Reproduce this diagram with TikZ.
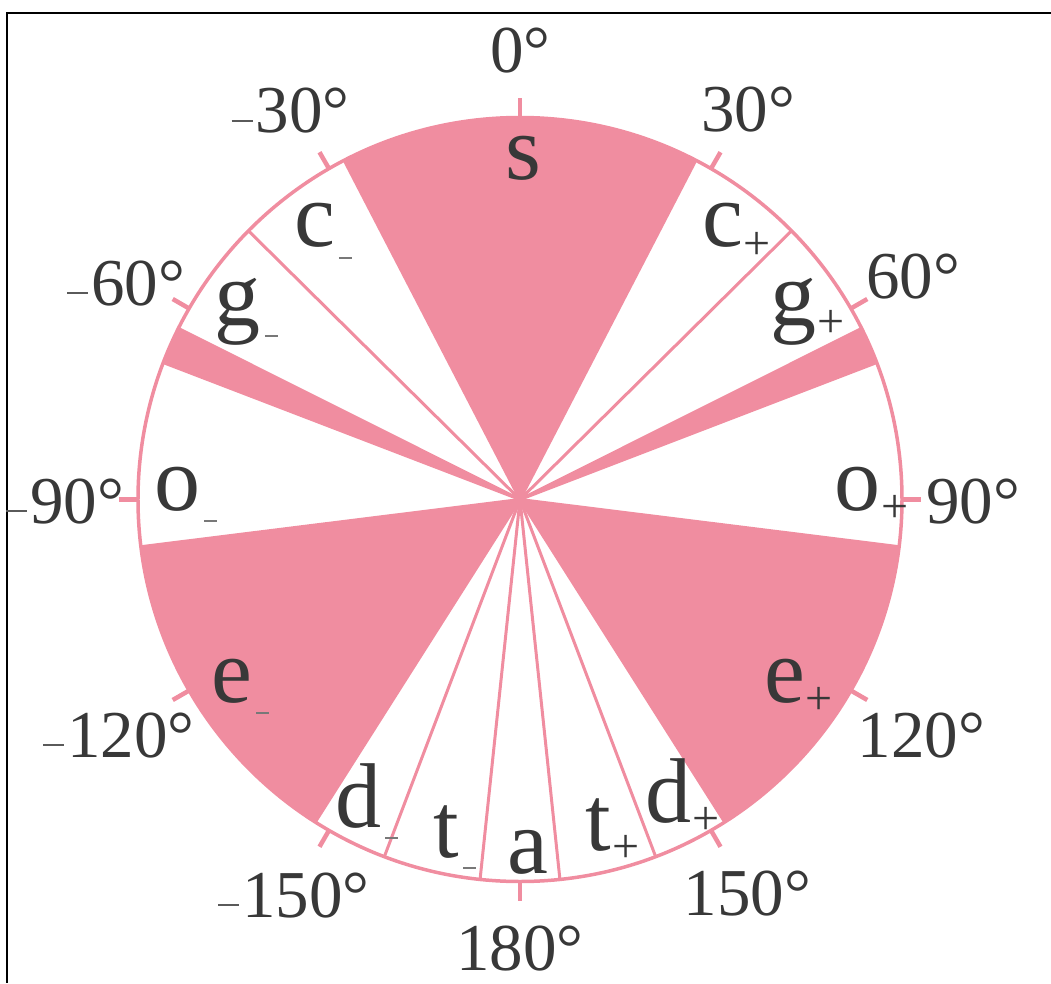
\documentclass[tikz,border=0pt]{standalone}
\usepackage{fontspec}
\setmainfont{Liberation Serif}
\definecolor{rose}{RGB}{240,141,160}
\definecolor{ink}{RGB}{56,56,56}
\definecolor{subgray}{RGB}{120,120,120}
\definecolor{dashgray}{RGB}{90,90,90}
\newcommand{\letfont}{\fontsize{92}{92}\selectfont}
\newcommand{\degfont}{\fontsize{67}{67}\selectfont}
\newcommand{\subminus}{\rlap{\kern4pt\textcolor{subgray}{\rule[-11.8pt]{13pt}{1.6pt}}}}
\newcommand{\subplus}{\rlap{\kern1pt\raisebox{-12.5pt}{\fontsize{48}{48}\selectfont +}}}
\newcommand{\degminus}{\llap{\textcolor{dashgray}{\rule[11pt]{21pt}{1.6pt}}\kern3pt}}
\begin{document}
\begin{tikzpicture}[x=1pt,y=1pt,
  lbl/.style={anchor=base,inner sep=0pt,text=ink,font=\letfont},
  deg/.style={anchor=base,inner sep=0pt,text=ink,font=\degfont},
  radial/.style={draw=rose,line width=3pt},
  tickmark/.style={draw=rose,line width=4.5pt},
  rim/.style={draw=rose,line width=3.5pt}]
\useasboundingbox (-520,-483.5) rectangle (531,499.5);
% frame
\draw[black,line width=1.5pt] (531,486.5) -- (-513,486.5) -- (-513,-483.5);
\def\R{382}
% pink sectors (compass angles theta -> polar 90-theta)
\fill[rose] (0,0) -- (117.4:\R) arc[start angle=117.4,end angle=62.6,radius=\R] -- cycle;
\fill[rose] (0,0) -- (26.6:\R) arc[start angle=26.6,end angle=21,radius=\R] -- cycle;
\fill[rose] (0,0) -- (153.4:\R) arc[start angle=153.4,end angle=159,radius=\R] -- cycle;
\fill[rose] (0,0) -- (-7.1:\R) arc[start angle=-7.1,end angle=-57.6,radius=\R] -- cycle;
\fill[rose] (0,0) -- (187.1:\R) arc[start angle=187.1,end angle=237.6,radius=\R] -- cycle;
% radial boundary lines
\foreach \t in {27.4,45.3,63.4,69,97.1,147.6,159.2,174}{
  \draw[radial] (0,0) -- ({90-\t}:\R);
  \draw[radial] (0,0) -- ({90+\t}:\R);
}
% rim
\draw[rim] (0,0) circle[radius=\R];
% ticks
\foreach \a in {0,30,60,90,120,150,180,210,240,270,300,330}{
  \draw[tickmark] (\a:\R+1) -- (\a:\R+19);
}
% sector labels
\node[lbl] (ls) at (3.5,319.5) {s};
\node[lbl] (lcm) at (-205.5,252.5) {c\subminus};
\node[lbl] (lcp) at (202.5,252.5) {c\subplus};
\node[lbl] (lgm) at (-282,174.5) {g\subminus};
\node[lbl] (lgp) at (273,174.5) {g\subplus};
\node[lbl] (lom) at (-342.5,-10.5) {o\subminus};
\node[lbl] (lop) at (337,-10.5) {o\subplus};
\node[lbl] (lem) at (-288,-202.5) {e\subminus};
\node[lbl] (lep) at (264.5,-202.5) {e\subplus};
\node[lbl] (ldm) at (-161.5,-327.5) {d\subminus};
\node[lbl] (ldp) at (148.5,-322.5) {d\subplus};
\node[lbl] (ltm) at (-73.5,-357.5) {t\subminus};
\node[lbl] (la) at (7.5,-373.5) {a};
\node[lbl] (ltp) at (78.5,-350.5) {t\subplus};
% degree labels
\node[deg] (d0) at (0.5,426.5) {0°};
\node[deg] (dm30) at (-217.5,366.5) {\degminus30°};
\node[deg] (d30) at (228,367.5) {30°};
\node[deg] (dm60) at (-382,194.5) {\degminus60°};
\node[deg] (d60) at (393,201.5) {60°};
\node[deg] (dm90) at (-443,-23.5) {\degminus90°};
\node[deg] (d90) at (453,-23.5) {90°};
\node[deg] (dm120) at (-389,-257.5) {\degminus120°};
\node[deg] (d120) at (401.5,-257.5) {120°};
\node[deg] (dm150) at (-214,-417.5) {\degminus150°};
\node[deg] (d150) at (227.5,-415.5) {150°};
\node[deg] (d180) at (0,-470.5) {180°};
\end{tikzpicture}
\end{document}
